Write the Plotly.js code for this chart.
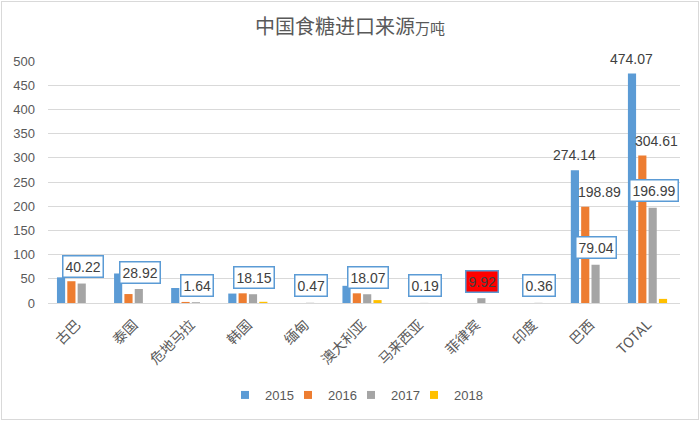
<!DOCTYPE html>
<html><head><meta charset="utf-8">
<script src="https://cdn.plot.ly/plotly-3.0.1.min.js"></script>
<style>
body{margin:0;background:#fff}
#wrap{position:relative;width:700px;height:421px}
#chart{width:700px;height:421px}
#frame{position:absolute;left:1px;top:1px;width:696px;height:417px;border:1px solid #D9D9D9;pointer-events:none}
</style>
</head><body>
<div id="wrap"><div id="chart"></div><div id="frame"></div></div>
<script>
// ---- data ----
const categories = ['古巴','泰国','危地马拉','韩国','缅甸','澳大利亚','马来西亚','菲律宾','印度','巴西','TOTAL'];
const years = ['2015','2016','2017','2018'];
const v2015 = [53, 61, 31, 19.5, 0, 35.5, 0, 0, 0, 274.14, 474.07];
const v2016 = [45, 18.5, 2.2, 20, 0, 20, 0, 0, 0, 198.89, 304.61];
const v2017 = [40.22, 28.92, 1.64, 18.15, 0.47, 18.07, 0.19, 9.92, 0.36, 79.04, 196.99];
const v2018 = [0, 0, 0, 2.5, 0, 6, 0, 0, 0, 0, 8.5];
const plainLabelCats = ['巴西','TOTAL'];   // 2015/2016 labels shown here
const highlightCat = '菲律宾';              // red-filled 2017 label
const yTicks = [0,50,100,150,200,250,300,350,400,450,500];

// ---- styles ----
const colors = ['#5B9BD5','#ED7D31','#A5A5A5','#FFC000'];
const series = [v2015, v2016, v2017, v2018];
const txtFont = 'Liberation Sans, Arial, sans-serif';
const cjkFont = 'Noto Sans CJK SC, sans-serif';

const traces = series.map((vals, k) => ({
  type: 'bar', x: categories, y: vals, name: years[k],
  marker: {color: colors[k]}, showlegend: false, hoverinfo: 'x+y'
}));
// legend swatches
years.forEach((yr, k) => traces.push({
  type: 'scatter', mode: 'markers', x: [null], y: [null], name: yr,
  marker: {symbol: 'square', size: 8, color: colors[k]}, showlegend: true
}));
// invisible spacer entry so the last legend text is not clipped
traces.push({type: 'scatter', mode: 'markers', x: [null], y: [null], name: '\u00a0',
  marker: {symbol: 'square', size: 8, color: 'rgba(0,0,0,0)'}, showlegend: true});

const annotations = [];
categories.forEach((c, i) => {
  annotations.push({
    x: c, y: v2017[i], xref: 'x', yref: 'y', showarrow: false,
    text: v2017[i].toFixed(2), xshift: 6, yshift: 17, yanchor: 'middle',
    font: {family: txtFont, size: 14, color: '#404040'},
    bordercolor: '#5B9BD5', borderwidth: 1.5, borderpad: 2,
    bgcolor: c === highlightCat ? '#FF0000' : '#FFFFFF'
  });
});
plainLabelCats.forEach(c => {
  const i = categories.indexOf(c);
  annotations.push({x: c, y: v2015[i], showarrow: false, text: v2015[i].toFixed(2),
    xshift: -15.6, yshift: 15, yanchor: 'middle', font: {family: txtFont, size: 14, color: '#404040'}});
  annotations.push({x: c, y: v2016[i], showarrow: false, text: v2016[i].toFixed(2),
    xshift: 9, yshift: 15, yanchor: 'middle', font: {family: txtFont, size: 14, color: '#404040'}});
});

const layout = {
  width: 700, height: 421,
  margin: {l: 48, r: 20, t: 61, b: 117.5, pad: 0},
  paper_bgcolor: '#FFFFFF', plot_bgcolor: '#FFFFFF',
  title: {
    text: '中国食糖进口来源<span style="font-size:15px">万吨</span>',
    font: {family: cjkFont, size: 20, color: '#595959'},
    x: 0.5, xref: 'container', xanchor: 'center',
    y: 1 - 27/421, yref: 'container', yanchor: 'middle'
  },
  barmode: 'group', bargap: 0.276, bargroupgap: 0.21,
  xaxis: {
    type: 'category', tickangle: -45, showgrid: false,
    showline: true, linecolor: '#D9D9D9', linewidth: 1, ticks: '',
    ticklabelstandoff: 7,
    tickfont: {family: cjkFont, size: 14, color: '#595959'}, automargin: false
  },
  yaxis: {
    range: [0, 500], tickvals: yTicks, ticktext: yTicks.map(String),
    showgrid: true, gridcolor: '#D9D9D9', gridwidth: 1, zeroline: false,
    showline: false, ticks: '', ticklabelstandoff: 12,
    tickfont: {family: txtFont, size: 13, color: '#595959'}, automargin: false
  },
  showlegend: true,
  legend: {
    orientation: 'h', xref: 'container', yref: 'container',
    x: 0.5464, xanchor: 'center', y: 1 - 395/421, yanchor: 'middle',
    font: {family: txtFont, size: 13, color: '#595959'},
    itemwidth: 30, tracegroupgap: 0, entrywidth: 18, entrywidthmode: 'pixels'
  },
  annotations: annotations
};

Plotly.newPlot('chart', traces, layout, {displayModeBar: false, staticPlot: true});
</script>
</body></html>
